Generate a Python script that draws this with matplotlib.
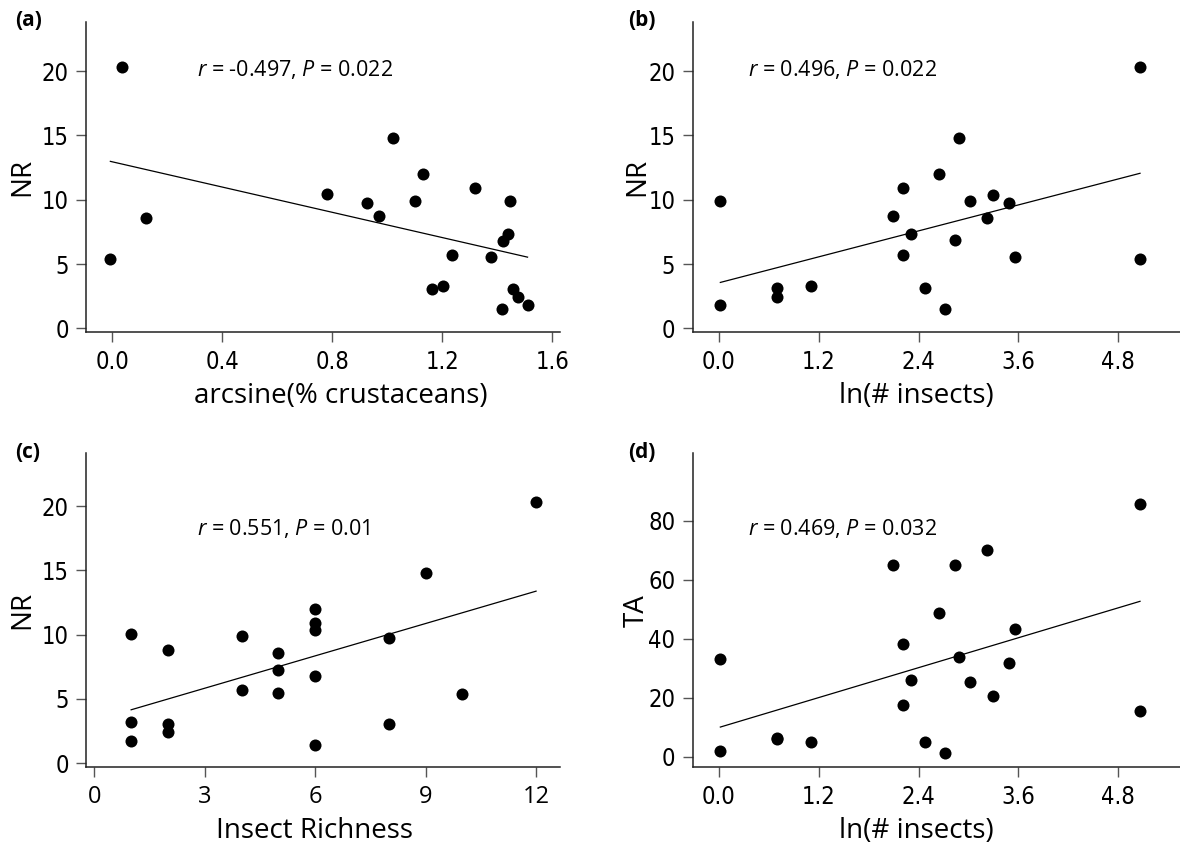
import numpy as np
import matplotlib
matplotlib.use("Agg")
from matplotlib import pyplot as plt

plt.rcParams['font.family'] = ['Open Sans', 'DejaVu Sans']
plt.rcParams['mathtext.fontset'] = 'custom'
plt.rcParams['mathtext.rm'] = 'Open Sans'
plt.rcParams['mathtext.it'] = 'Open Sans:italic'

# (a) NR vs arcsine(% crustaceans)
crust_x = [0.036, 0.122, -0.007, 0.779, 0.927, 0.971, 1.021, 1.102, 1.131, 1.161, 1.204,
           1.234, 1.320, 1.378, 1.422, 1.438, 1.445, 1.458, 1.474, 1.416, 1.510]
crust_nr = [20.28, 8.60, 5.36, 10.41, 9.74, 8.76, 14.79, 9.92, 12.02, 3.08, 3.26,
            5.70, 10.88, 5.52, 6.81, 7.33, 9.92, 3.08, 2.46, 1.48, 1.81]

# (b) NR vs ln(# insects)
ins_x = [5.06, 0.02, 0.02, 0.697, 0.697, 1.109, 2.094, 2.214, 2.214, 2.314, 2.650,
         2.890, 2.482, 2.718, 2.842, 3.014, 3.299, 3.227, 3.491, 3.563, 5.06]
ins_nr = [20.28, 9.92, 1.79, 3.11, 2.44, 3.26, 8.76, 10.88, 5.70, 7.31, 12.02,
          14.79, 3.11, 1.48, 6.84, 9.92, 10.39, 8.60, 9.74, 5.52, 5.36]

# (c) NR vs insect richness
rich_x = [12, 9, 6, 6, 6, 6, 6, 8, 8, 10, 4, 4, 5, 5, 5, 1, 1, 1, 2, 2, 2]
rich_nr = [20.31, 14.76, 12.01, 10.92, 10.38, 6.82, 1.45, 9.73, 3.09, 5.37, 9.88,
           5.68, 8.61, 7.29, 5.50, 10.09, 3.24, 1.76, 8.77, 3.09, 2.41]

# (d) TA vs ln(# insects); two sites overlap near x = 0.7
ta_x = [5.06, 0.02, 0.02, 0.697, 0.697, 1.109, 2.094, 2.214, 2.214, 2.314, 2.650,
        2.842, 2.890, 2.482, 2.718, 3.014, 3.227, 3.299, 3.491, 3.563, 5.06]
ta_y = [85.6, 33.2, 2.0, 6.3, 6.0, 5.0, 65.1, 38.2, 17.6, 26.2, 48.8,
        65.1, 33.9, 5.0, 1.5, 25.4, 70.1, 20.5, 31.9, 43.2, 15.6]

panel_tags = ['(a)', '(b)', '(c)', '(d)']
stat_text = ['$r$ = -0.497, $P$ = 0.022', '$r$ = 0.496, $P$ = 0.022',
             '$r$ = 0.551, $P$ = 0.01', '$r$ = 0.469, $P$ = 0.032']
xlabels = ['arcsine(% crustaceans)', 'ln(# insects)', 'Insect Richness', 'ln(# insects)']
ylabels = ['NR', 'NR', 'NR', 'TA']

W, H = 1180, 852
fig = plt.figure(figsize=(W / 100, H / 100), dpi=100)

def px_axes(left, top, right, bottom):
    return fig.add_axes([left / W, 1 - bottom / H, (right - left) / W, (bottom - top) / H])

axes = [px_axes(86, 21.7, 560, 332.3), px_axes(692.7, 21.7, 1180, 332.3),
        px_axes(86, 453.3, 560, 767.3), px_axes(692.7, 453.3, 1180, 767.3)]

datasets = [(crust_x, crust_nr), (ins_x, ins_nr), (rich_x, rich_nr), (ta_x, ta_y)]
xlims = [(-0.0956, 1.628), (-0.312, 5.54), (-0.226, 12.65), (-0.312, 5.54)]
ylims = [(-0.31, 23.84), (-0.31, 23.84), (-0.31, 24.1), (-3.5, 102.9)]
xticks = [[0.0, 0.4, 0.8, 1.2, 1.6], [0.0, 1.2, 2.4, 3.6, 4.8], [0, 3, 6, 9, 12], [0.0, 1.2, 2.4, 3.6, 4.8]]
yticks = [[0, 5, 10, 15, 20], [0, 5, 10, 15, 20], [0, 5, 10, 15, 20], [0, 20, 40, 60, 80]]
xfmt = ['{:.1f}', '{:.1f}', '{:d}', '{:.1f}']
stat_pos = [(0.2335, 0.8445), (0.114, 0.8445), (0.2335, 0.761), (0.114, 0.761)]
xlab_x = [0.538, 0.458, 0.483, 0.458]
ylab_x = [-0.135, -0.114, -0.135, -0.114]

for i, ax in enumerate(axes):
    x = np.array(datasets[i][0], dtype=float)
    y = np.array(datasets[i][1], dtype=float)
    ax.scatter(x, y, s=75, color='black', zorder=3, linewidths=0)
    slope, icpt = np.polyfit(x, y, 1)
    xs = np.array([x.min(), x.max()])
    ax.plot(xs, slope * xs + icpt, color='black', lw=0.9)

    ax.set_xlim(*xlims[i])
    ax.set_ylim(*ylims[i])
    ax.set_xticks(xticks[i])
    labels = [xfmt[i].format(t) for t in xticks[i]]
    if i == 2:
        ax.set_xticklabels(labels, family='Open Sans')
    else:
        ax.set_xticklabels(labels, family='DejaVu Sans', fontstretch='condensed')
    ax.set_yticks(yticks[i])
    ax.set_yticklabels([str(t) for t in yticks[i]], family='DejaVu Sans', fontstretch='condensed')
    ax.tick_params(length=7.5, width=1.0, color='#555555', labelsize=17, pad=5)

    for side in ['top', 'right']:
        ax.spines[side].set_visible(False)
    for side in ['left', 'bottom']:
        ax.spines[side].set_linewidth(1.1)
        ax.spines[side].set_color('#222222')

    ax.set_xlabel(xlabels[i], fontsize=20)
    ax.set_ylabel(ylabels[i], fontsize=20)
    ax.xaxis.label.set_va('center')
    ax.yaxis.label.set_va('center')
    h = 310.6 if i < 2 else 314.0
    ax.xaxis.set_label_coords(xlab_x[i], -64 / h)
    ax.yaxis.set_label_coords(ylab_x[i], 0.5)

    ax.text(stat_pos[i][0], stat_pos[i][1], stat_text[i], transform=ax.transAxes,
            fontsize=15.5, ha='left', va='center')

tag_pos = [(15, 20), (628, 20), (15, 453), (628, 452)]
for tag, (px, py) in zip(panel_tags, tag_pos):
    fig.text(px / W, 1 - py / H, tag, fontsize=15, fontweight='bold', ha='left', va='center')

fig.savefig('out.png', dpi=100)
